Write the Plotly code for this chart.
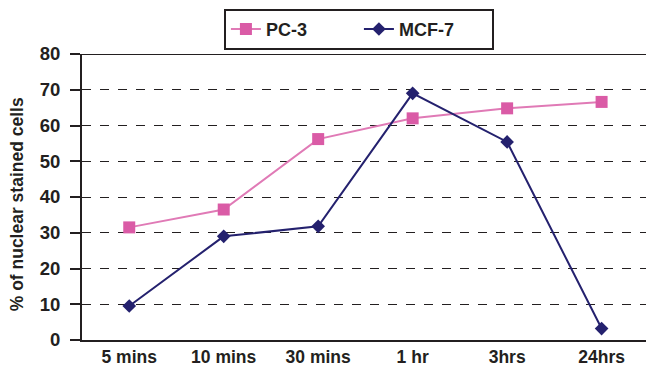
import plotly.graph_objects as go

categories = ["5 mins", "10 mins", "30 mins", "1 hr", "3hrs", "24hrs"]
pc3 = [31.5, 36.5, 56.2, 62.0, 64.8, 66.6]
mcf7 = [9.5, 29.0, 31.8, 69.0, 55.4, 3.2]
y_ticks = [0, 10, 20, 30, 40, 50, 60, 70, 80]

font = "Liberation Sans, Arial, sans-serif"
ink = "#231F20"

fig = go.Figure()
fig.add_trace(go.Scatter(
    x=categories, y=pc3, name="<b>PC-3</b>", mode="lines+markers",
    line=dict(color="#E07AB6", width=2),
    marker=dict(symbol="square", size=12, color="#DA5BA6"),
))
fig.add_trace(go.Scatter(
    x=categories, y=mcf7, name="<b>MCF-7</b>", mode="lines+markers",
    line=dict(color="#24216E", width=2),
    marker=dict(symbol="diamond", size=10.5, color="#24216E"),
))

fig.update_layout(
    width=646, height=371,
    margin=dict(l=82, r=0, t=54, b=31),
    paper_bgcolor="white", plot_bgcolor="white",
    font=dict(family=font, size=17, color=ink),
    legend=dict(
        orientation="h", x=0.491, xanchor="center", y=1.158, yanchor="top",
        bordercolor=ink, borderwidth=2, bgcolor="white",
        font=dict(family=font, size=18, color=ink),
        entrywidth=88, entrywidthmode="pixels", tracegroupgap=0,
    ),
    xaxis=dict(
        type="category", range=[-0.5, 5.47],
        showline=True, linecolor=ink, linewidth=2,
        showgrid=False, ticks="", tickfont=dict(family=font, size=17.5, color=ink),
        tickvals=categories, ticktext=[f"<b>{c}</b>" for c in categories],
        zeroline=False,
    ),
    yaxis=dict(
        range=[0, 80], tickvals=y_ticks, ticktext=[f"<b>{v}</b>" for v in y_ticks],
        showline=True, linecolor=ink, linewidth=2, mirror=False,
        ticks="outside", ticklen=10, tickcolor=ink, tickwidth=1.5,
        ticklabelstandoff=6,
        showgrid=True, gridcolor=ink, griddash="dash", gridwidth=1,
        zeroline=False,
        tickfont=dict(family=font, size=18.5, color=ink),
    ),
)
fig.add_annotation(
    text="<b>% of nuclear stained cells</b>", textangle=-90,
    xref="paper", yref="paper", x=-0.115, y=0.475, xanchor="center", yanchor="middle",
    showarrow=False, font=dict(family=font, size=17.5, color=ink),
)
# top border line at 80
fig.add_shape(type="line", xref="paper", yref="y", x0=0, x1=1, y0=80, y1=80,
              line=dict(color=ink, width=2))
fig.write_html("out.html")
